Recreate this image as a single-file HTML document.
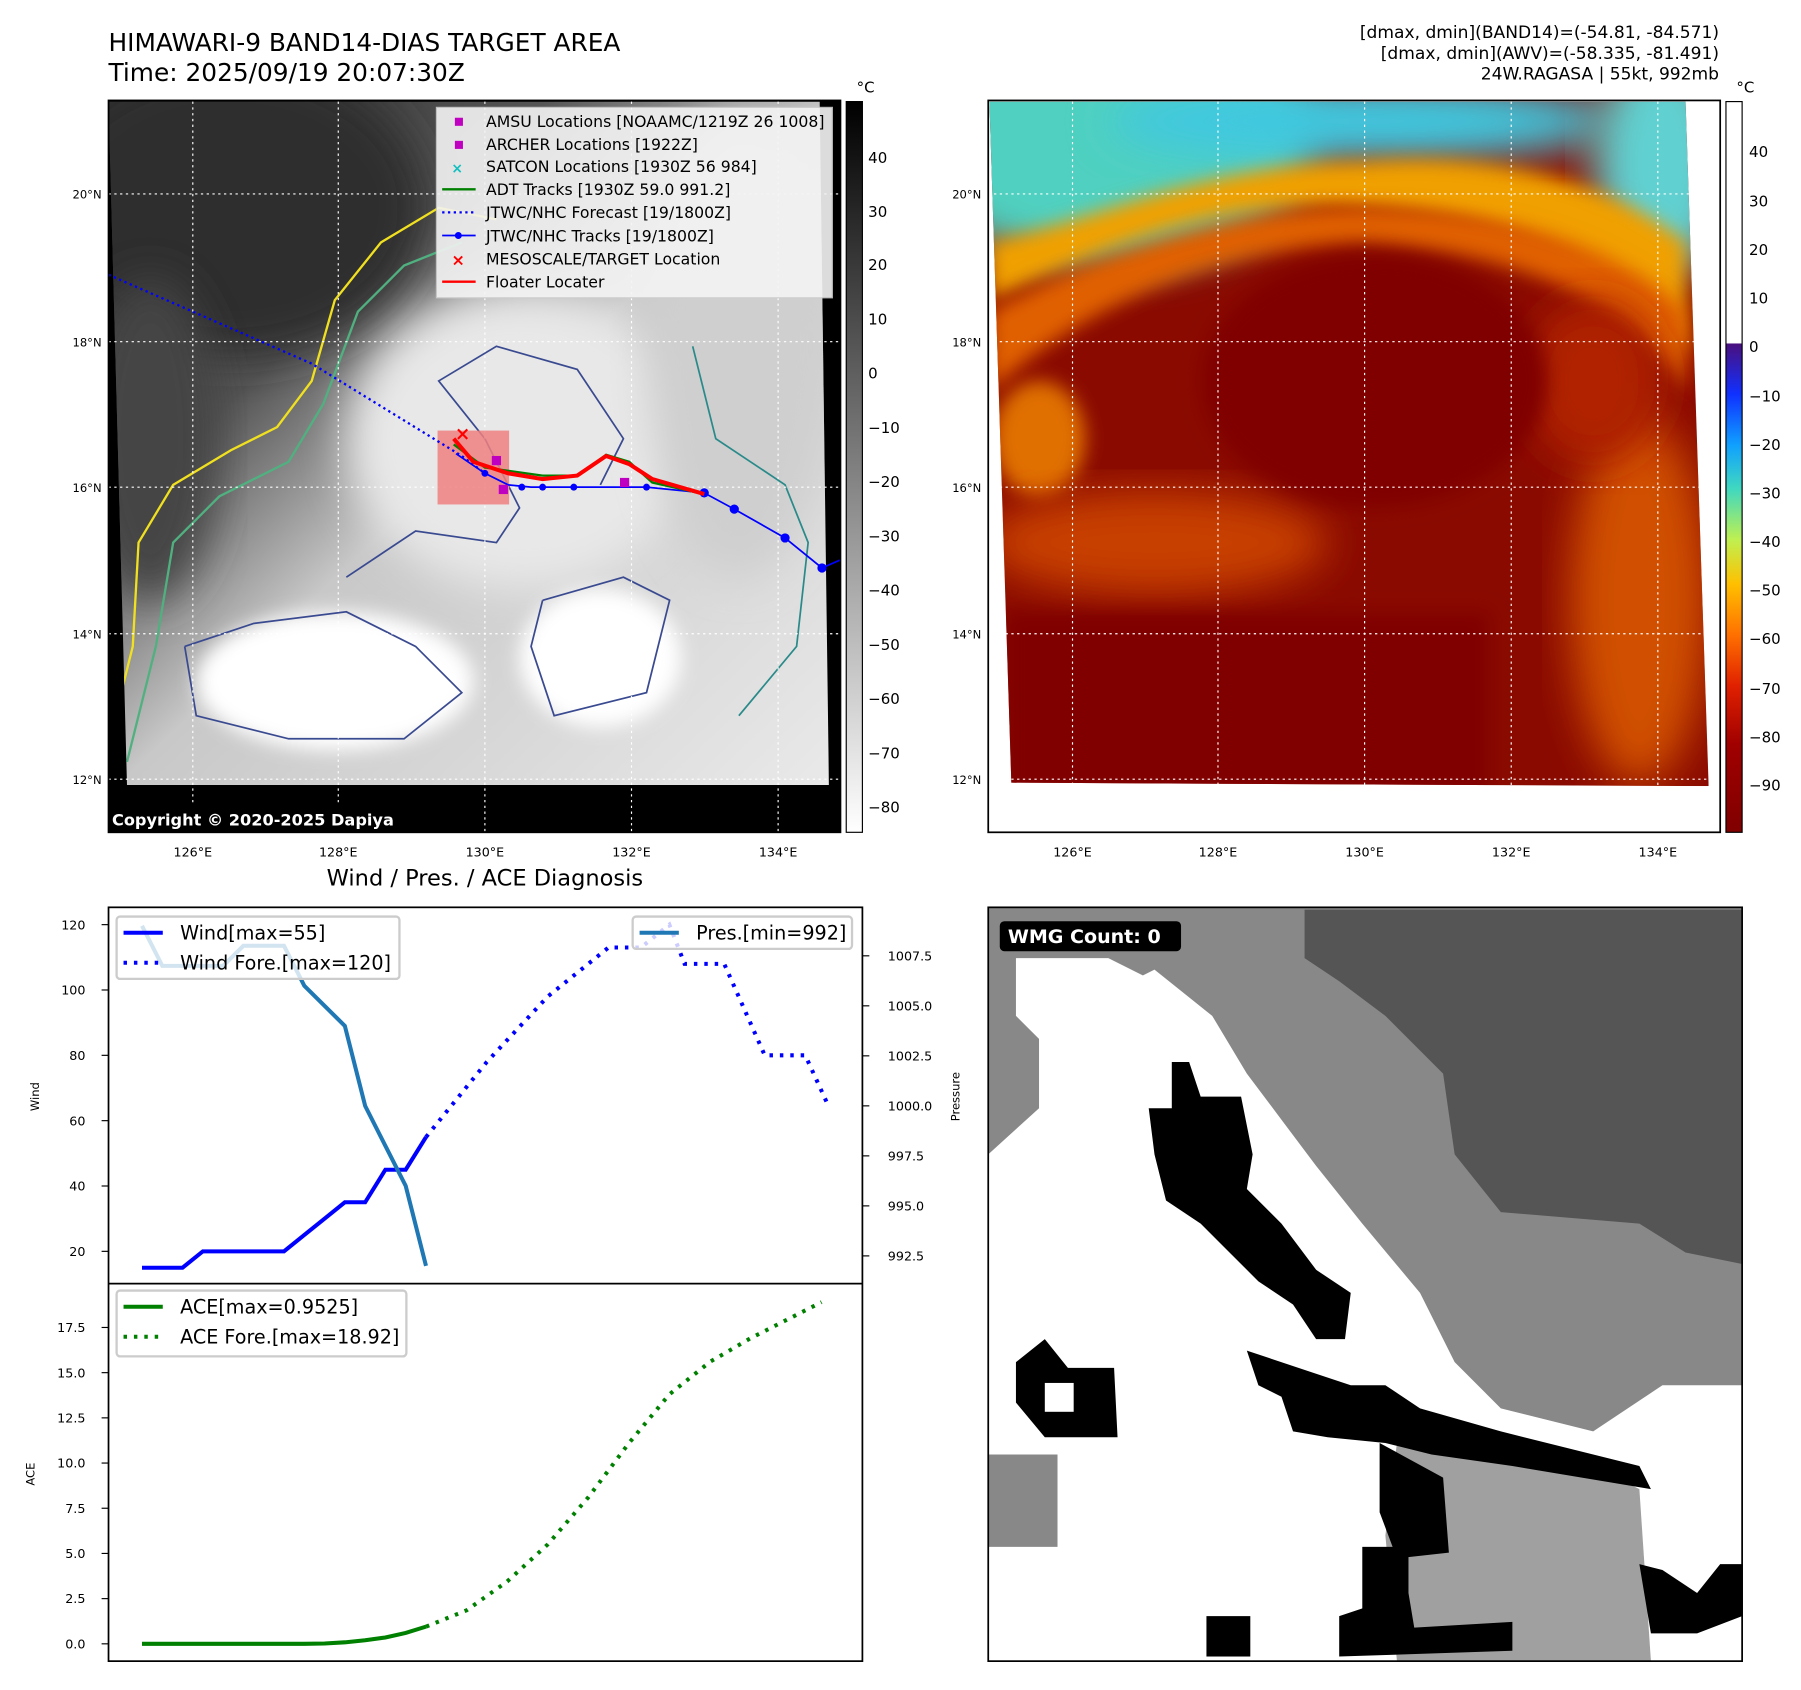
<!DOCTYPE html>
<html><head><meta charset="utf-8"><style>
html,body{margin:0;padding:0;background:#fff;}
svg{display:block;font-family:"DejaVu Sans","Liberation Sans",sans-serif;}
</style></head><body>
<svg id="root" width="1801" height="1690" viewBox="0 0 1560 1464" preserveAspectRatio="none" xmlns="http://www.w3.org/2000/svg">
<defs>
<linearGradient id="gcb1" x1="0" y1="0" x2="0" y2="1"><stop offset="0" stop-color="#000"/><stop offset="1" stop-color="#fff"/></linearGradient>
<linearGradient id="gcb2" x1="0" y1="0" x2="0" y2="1">
<stop offset="0" stop-color="#fff"/><stop offset="0.33" stop-color="#fff"/><stop offset="0.332" stop-color="#4a1080"/>
<stop offset="0.40" stop-color="#1030ff"/><stop offset="0.47" stop-color="#10a0ff"/><stop offset="0.53" stop-color="#40d8c0"/>
<stop offset="0.60" stop-color="#c0f050"/><stop offset="0.66" stop-color="#ffc000"/><stop offset="0.73" stop-color="#ff7000"/>
<stop offset="0.80" stop-color="#e02000"/><stop offset="0.88" stop-color="#a00000"/><stop offset="1" stop-color="#800000"/></linearGradient>
<linearGradient id="gmap1" x1="0" y1="0" x2="1" y2="1"><stop offset="0" stop-color="#2a2a2a"/><stop offset="0.3" stop-color="#555"/><stop offset="0.5" stop-color="#c8c8c8"/><stop offset="1" stop-color="#eaeaea"/></linearGradient>
<filter id="bl" x="-20%" y="-20%" width="140%" height="140%"><feGaussianBlur stdDeviation="18"/></filter>
<filter id="bl2" x="-20%" y="-20%" width="140%" height="140%"><feGaussianBlur stdDeviation="8"/></filter>
<clipPath id="c1"><polygon points="94,88 710,88 718,680 110,680"/></clipPath>
<clipPath id="c2"><polygon points="857,88 1460,88 1480,681 876,678"/></clipPath>
<clipPath id="c3"><rect x="856" y="786" width="653" height="653"/></clipPath>
</defs>

<text x="94" y="44" font-size="21.5">HIMAWARI-9 BAND14-DIAS TARGET AREA</text>
<text x="94" y="70" font-size="21.5">Time: 2025/09/19 20:07:30Z</text>
<g font-size="14.8" text-anchor="end">
<text x="1489" y="33">[dmax, dmin](BAND14)=(-54.81, -84.571)</text>
<text x="1489" y="51">[dmax, dmin](AWV)=(-58.335, -81.491)</text>
<text x="1489" y="69">24W.RAGASA | 55kt, 992mb</text>
</g>

<g>
<rect x="94" y="87" width="634" height="634" fill="#000"/>
<g clip-path="url(#c1)">
<rect x="94" y="88" width="630" height="600" fill="url(#gmap1)"/>
<ellipse cx="200" cy="180" rx="170" ry="130" fill="#2e2e2e" filter="url(#bl)"/>
<ellipse cx="130" cy="380" rx="60" ry="140" fill="#444" filter="url(#bl)"/>
<ellipse cx="450" cy="380" rx="150" ry="130" fill="#e8e8e8" filter="url(#bl)"/>
<ellipse cx="290" cy="590" rx="120" ry="60" fill="#fff" filter="url(#bl2)"/>
<ellipse cx="520" cy="570" rx="70" ry="60" fill="#fff" filter="url(#bl2)"/>
<ellipse cx="640" cy="300" rx="80" ry="200" fill="#cfcfcf" filter="url(#bl)"/>
<polyline points="95,640 115,560 120,470 150,420 200,390 240,370 270,330 290,260 330,210 380,180 430,190" fill="none" stroke="#f0e020" stroke-width="2"/>
<polyline points="110,660 135,560 150,470 190,430 250,400 280,350 310,270 350,230 400,210" fill="none" stroke="#50b080" stroke-width="2"/>
<polyline points="300,500 360,460 430,470 450,440 420,380 380,330 430,300 500,320 540,380 520,420" fill="none" stroke="#3a4a90" stroke-width="1.5"/>
<polyline points="160,560 220,540 300,530 360,560 400,600 350,640 250,640 170,620 160,560" fill="none" stroke="#3a4a90" stroke-width="1.5"/>
<polyline points="470,520 540,500 580,520 560,600 480,620 460,560 470,520" fill="none" stroke="#3a4a90" stroke-width="1.5"/>
<polyline points="600,300 620,380 680,420 700,470 690,560 640,620" fill="none" stroke="#2a8a8a" stroke-width="1.5"/>
</g>
<g stroke="#fff" stroke-width="1" stroke-dasharray="2,3">
<line x1="94" x2="728" y1="168" y2="168"/><line x1="94" x2="728" y1="296" y2="296"/><line x1="94" x2="728" y1="422" y2="422"/><line x1="94" x2="728" y1="549" y2="549"/><line x1="94" x2="728" y1="675" y2="675"/>
<line y1="88" y2="721" x1="167" x2="167"/><line y1="88" y2="721" x1="293" x2="293"/><line y1="88" y2="721" x1="420" x2="420"/><line y1="88" y2="721" x1="547" x2="547"/><line y1="88" y2="721" x1="674" x2="674"/>
</g>
<rect x="379" y="373" width="62" height="64" fill="#f08080" opacity="0.85"/>
<polyline points="94,238 270,315 400,395 420,410" fill="none" stroke="#0000ff" stroke-width="2" stroke-dasharray="2,3"/>
<polyline points="395,393 420,410 440,420 460,422 560,422 610,427 636,441 680,466 712,492 728,485" fill="none" stroke="#0000ff" stroke-width="1.5"/>
<g fill="#0000ff"><circle cx="420" cy="410" r="3"/><circle cx="452" cy="422" r="3"/><circle cx="470" cy="422" r="3"/><circle cx="497" cy="422" r="3"/><circle cx="560" cy="422" r="3"/><circle cx="610" cy="427" r="4"/><circle cx="636" cy="441" r="4"/><circle cx="680" cy="466" r="4"/><circle cx="712" cy="492" r="4"/></g>
<polyline points="393,385 420,405 470,412 500,412 525,394 545,400 565,418 610,428" fill="none" stroke="#008000" stroke-width="2"/>
<polyline points="393,380 410,400 440,410 470,415 500,412 525,395 545,402 565,415 610,428" fill="none" stroke="#ff0000" stroke-width="3.5"/>
<text x="394" y="381" fill="#ff0000" font-size="16" font-weight="bold">×</text>
<g fill="#c000c0"><rect x="426" y="395" width="8" height="8"/><rect x="432" y="420" width="8" height="8"/><rect x="537" y="414" width="8" height="8"/></g>
<rect x="94" y="697" width="280" height="24" fill="#000"/>
<text x="97" y="715" fill="#fff" font-size="14" font-weight="bold">Copyright © 2020-2025 Dapiya</text>
<g>
<rect x="378" y="93" width="343" height="165" fill="#f4f4f4" opacity="0.9" stroke="#ccc"/>
<g font-size="13.6">
<rect x="394" y="102" width="7" height="7" fill="#c000c0"/><text x="421" y="110">AMSU Locations [NOAAMC/1219Z 26 1008]</text>
<rect x="394" y="122" width="7" height="7" fill="#c000c0"/><text x="421" y="130">ARCHER Locations [1922Z]</text>
<text x="391" y="150" fill="#10c0c0" font-size="12" font-weight="bold">×</text><text x="421" y="149">SATCON Locations [1930Z 56 984]</text>
<line x1="383" x2="412" y1="164" y2="164" stroke="#008000" stroke-width="2"/><text x="421" y="169">ADT Tracks [1930Z 59.0 991.2]</text>
<line x1="383" x2="412" y1="184" y2="184" stroke="#0000ff" stroke-width="2" stroke-dasharray="2,3"/><text x="421" y="189">JTWC/NHC Forecast [19/1800Z]</text>
<line x1="383" x2="412" y1="204" y2="204" stroke="#0000ff" stroke-width="1.5"/><circle cx="397" cy="204" r="3" fill="#0000ff"/><text x="421" y="209">JTWC/NHC Tracks [19/1800Z]</text>
<text x="391" y="230" fill="#ff0000" font-size="14" font-weight="bold">×</text><text x="421" y="229">MESOSCALE/TARGET Location</text>
<line x1="383" x2="412" y1="244" y2="244" stroke="#ff0000" stroke-width="2"/><text x="421" y="249">Floater Locater</text>
</g></g>
<rect x="94" y="87" width="634" height="634" fill="none" stroke="#000" stroke-width="1.5"/>
</g>
<g>
<rect x="733" y="88" width="14" height="633" fill="url(#gcb1)" stroke="#000"/>
<text x="742" y="80" font-size="13">°C</text>
<g font-size="13"><text x="752" y="141">40</text><text x="752" y="188">30</text><text x="752" y="234">20</text><text x="752" y="281">10</text><text x="752" y="328">0</text><text x="752" y="375">−10</text><text x="752" y="422">−20</text><text x="752" y="469">−30</text><text x="752" y="516">−40</text><text x="752" y="563">−50</text><text x="752" y="610">−60</text><text x="752" y="657">−70</text><text x="752" y="704">−80</text></g>
</g>
<g font-size="10" text-anchor="end"><text x="88" y="172">20°N</text><text x="88" y="300">18°N</text><text x="88" y="426">16°N</text><text x="88" y="553">14°N</text><text x="88" y="679">12°N</text></g>
<g font-size="11" text-anchor="middle"><text x="167" y="742">126°E</text><text x="293" y="742">128°E</text><text x="420" y="742">130°E</text><text x="547" y="742">132°E</text><text x="674" y="742">134°E</text></g>

<g>
<g clip-path="url(#c2)">
<rect x="856" y="88" width="630" height="600" fill="#8a0a00"/>
<ellipse cx="960" cy="120" rx="180" ry="110" fill="#50d0c0" filter="url(#bl)"/>
<ellipse cx="1180" cy="105" rx="220" ry="35" fill="#40c8e0" filter="url(#bl)"/>
<ellipse cx="1440" cy="140" rx="60" ry="100" fill="#60d0d0" filter="url(#bl)"/>
<path d="M857,260 C950,220 1050,170 1180,180 C1330,190 1400,240 1460,310 L1460,210 C1400,160 1300,130 1180,140 C1050,140 950,190 857,210 Z" fill="#f0a000" filter="url(#bl2)"/>
<path d="M857,340 C930,270 1050,215 1180,210 C1330,220 1420,270 1460,340 L1460,270 C1400,210 1300,180 1180,180 C1050,180 930,230 857,270 Z" fill="#e06000" filter="url(#bl2)"/>
<ellipse cx="900" cy="380" rx="40" ry="50" fill="#e07000" filter="url(#bl2)"/>
<ellipse cx="1000" cy="470" rx="150" ry="45" fill="#c84000" filter="url(#bl)"/>
<ellipse cx="1420" cy="520" rx="60" ry="160" fill="#d05000" filter="url(#bl)"/>
<ellipse cx="1380" cy="330" rx="60" ry="70" fill="#b02000" filter="url(#bl)"/>
<ellipse cx="1190" cy="330" rx="150" ry="110" fill="#800000" filter="url(#bl2)"/>
<rect x="870" y="530" width="420" height="160" fill="#800000" filter="url(#bl2)"/>
</g>
<g stroke="#fff" stroke-width="1" stroke-dasharray="2,3">
<line x1="856" x2="1490" y1="168" y2="168"/><line x1="856" x2="1490" y1="296" y2="296"/><line x1="856" x2="1490" y1="422" y2="422"/><line x1="856" x2="1490" y1="549" y2="549"/><line x1="856" x2="1490" y1="675" y2="675"/>
<line y1="88" y2="721" x1="929" x2="929"/><line y1="88" y2="721" x1="1055" x2="1055"/><line y1="88" y2="721" x1="1182" x2="1182"/><line y1="88" y2="721" x1="1309" x2="1309"/><line y1="88" y2="721" x1="1436" x2="1436"/>
</g>
<rect x="856" y="87" width="634" height="634" fill="none" stroke="#000" stroke-width="1.5"/>
</g>
<g>
<rect x="1495" y="88" width="14" height="633" fill="url(#gcb2)" stroke="#000"/>
<text x="1504" y="80" font-size="13">°C</text>
<g font-size="13"><text x="1515" y="136">40</text><text x="1515" y="179">30</text><text x="1515" y="221">20</text><text x="1515" y="263">10</text><text x="1515" y="305">0</text><text x="1515" y="348">−10</text><text x="1515" y="390">−20</text><text x="1515" y="432">−30</text><text x="1515" y="474">−40</text><text x="1515" y="516">−50</text><text x="1515" y="558">−60</text><text x="1515" y="601">−70</text><text x="1515" y="643">−80</text><text x="1515" y="685">−90</text></g>
</g>
<g font-size="10" text-anchor="end"><text x="850" y="172">20°N</text><text x="850" y="300">18°N</text><text x="850" y="426">16°N</text><text x="850" y="553">14°N</text><text x="850" y="679">12°N</text></g>
<g font-size="11" text-anchor="middle"><text x="929" y="742">126°E</text><text x="1055" y="742">128°E</text><text x="1182" y="742">130°E</text><text x="1309" y="742">132°E</text><text x="1436" y="742">134°E</text></g>

<g clip-path="url(#c3)">
<rect x="856" y="786" width="653" height="653" fill="#888"/>
<polygon points="1130,788 1509,788 1509,1095 1460,1085 1420,1060 1300,1050 1260,1000 1250,930 1200,880 1160,850 1130,830" fill="#555"/>
<polygon points="856,1000 900,960 900,880 960,860 1000,840 1050,880 1080,930 1110,970 1140,1010 1180,1060 1230,1120 1260,1180 1300,1220 1380,1240 1440,1200 1509,1200 1509,1439 856,1439" fill="#fff"/>
<polygon points="880,830 960,830 1000,850 1000,900 920,920 880,880" fill="#fff"/>
<polygon points="1210,1250 1250,1240 1320,1250 1380,1270 1420,1290 1430,1439 1210,1439 1200,1330" fill="#a0a0a0"/>
<rect x="856" y="1260" width="60" height="80" fill="#888"/>
<g fill="#000">
<polygon points="1015,920 1030,920 1040,950 1075,950 1085,1000 1080,1030 1110,1060 1140,1100 1170,1120 1165,1160 1140,1160 1120,1130 1090,1110 1060,1080 1040,1060 1010,1040 1000,1000 995,960 1015,960"/>
<polygon points="1080,1170 1140,1190 1170,1200 1200,1200 1230,1220 1300,1240 1420,1270 1430,1290 1310,1270 1240,1260 1200,1250 1150,1245 1120,1240 1110,1210 1090,1200"/>
<polygon points="1195,1250 1250,1280 1255,1345 1210,1350 1195,1310"/>
<polygon points="880,1180 905,1160 925,1185 965,1185 968,1245 905,1245 880,1215"/>
<polygon points="1420,1355 1440,1360 1470,1380 1490,1355 1509,1355 1509,1400 1470,1415 1430,1415"/>
<rect x="1045" y="1400" width="38" height="35"/>
<polygon points="1160,1400 1220,1380 1225,1410 1310,1405 1310,1430 1160,1435"/>
<rect x="1180" y="1340" width="40" height="55"/>
</g>
<g fill="#fff"><rect x="905" y="1198" width="25" height="25"/></g>
</g>
<rect x="856" y="786" width="653" height="653" fill="none" stroke="#000" stroke-width="1.5"/>
<rect x="866" y="798" width="157" height="26" rx="4" fill="#000"/>
<text x="873" y="817" fill="#fff" font-size="16.5" font-weight="bold">WMG Count: 0</text>

<text x="420" y="767" font-size="19.5" text-anchor="middle">Wind / Pres. / ACE Diagnosis</text>
<g id="chart"></g>
</svg>
<script>
const windObsIdx = [0,1,2,3,4,5,6,7,8,9,10,11,12,13,14];
const windObs = [15,15,15,20,20,20,20,20,25,30,35,35,45,45,55];
const presObs = [1009,1007,1007,1007,1007,1008,1008,1008,1006,1005,1004,1000,998,996,992];
const windFcIdx = [14,17,20,23,24.6,26,26.75,28.7,30.7,32.7,33.8];
const windFc = [55,78,98,113,113,120,108,108,80,80,65];
const aceObs = [0,0,0,0,0,0,0,0,0,0.02,0.08,0.2,0.35,0.6,0.95];
const aceFcIdx = [14,16,18,20,22,24,26,28,30,33.5];
const aceFc = [0.95,1.85,3.45,5.5,8.1,11.1,13.8,15.6,16.9,18.9];
const windTicks = [20,40,60,80,100,120];
const presTicks = [992.5,995.0,997.5,1000.0,1002.5,1005.0,1007.5];
const aceTicks = [0.0,2.5,5.0,7.5,10.0,12.5,15.0,17.5];

const NS='http://www.w3.org/2000/svg';
const g=document.getElementById('chart');
const X=i=>123+17.57*i;
const YW=v=>1084-(v-20)*2.83;
const YP=v=>828+(1007.5-v)*17.33;
const YA=v=>1424-v*15.66;
function mk(t,a,p){const e=document.createElementNS(NS,t);for(const k in a)e.setAttribute(k,a[k]);(p||g).appendChild(e);return e;}
function txt(x,y,s,anchor,size){const e=mk('text',{x:x,y:y,'font-size':size||11,'text-anchor':anchor||'end'});e.textContent=s;return e;}
function line(xs,vals,fy,col,w,dash,name){
  const pts=xs.map((x,k)=>X(x).toFixed(1)+','+fy(vals[k]).toFixed(1)).join(' ');
  const a={points:pts,fill:'none',stroke:col,'stroke-width':w};
  if(dash)a['stroke-dasharray']=dash;
  const e=mk('polyline',a);
  
  
}
mk('rect',{x:94,y:786,width:653,height:653,fill:'#fff',stroke:'#000','stroke-width':1.5});
mk('line',{x1:94,x2:747,y1:1112,y2:1112,stroke:'#000','stroke-width':1.5});
windTicks.forEach(v=>{mk('line',{x1:88,x2:94,y1:YW(v),y2:YW(v),stroke:'#000'});txt(74,YW(v)+4,String(v));});
presTicks.forEach(v=>{mk('line',{x1:747,x2:753,y1:YP(v),y2:YP(v),stroke:'#000'});txt(769,YP(v)+4,v.toFixed(1),'start');});
aceTicks.forEach(v=>{mk('line',{x1:88,x2:94,y1:YA(v),y2:YA(v),stroke:'#000'});txt(74,YA(v)+4,v.toFixed(1));});
const yl1=txt(34,950,'Wind','middle',10);yl1.setAttribute('transform','rotate(-90 34 950)');
const yl2=txt(831,950,'Pressure','middle',10);yl2.setAttribute('transform','rotate(-90 831 950)');
const yl3=txt(30,1277,'ACE','middle',10);yl3.setAttribute('transform','rotate(-90 30 1277)');
line(windObsIdx,windObs,YW,'#0000ff',3.5,null,'wind-line');
line(windFcIdx,windFc,YW,'#0000ff',3.5,'3,6','wind-forecast-line');
line(windObsIdx,presObs,YP,'#1f77b4',3.5,null,'pressure-line');
line(windObsIdx,aceObs,YA,'#008000',3.5,null,'ace-line');
line(aceFcIdx,aceFc,YA,'#008000',3.5,'3,6','ace-forecast-line');
function legend(x,y,w,h,items,name){
  const lg=mk('g',{});
  
  
  mk('rect',{x:x,y:y,width:w,height:h,rx:3,fill:'#fff','fill-opacity':0.8,stroke:'#ccc','stroke-width':2},lg);
  items.forEach((it,k)=>{const yy=y+14+k*26;
    const a={x1:x+6,x2:x+40,y1:yy,y2:yy,stroke:it[1],'stroke-width':3.5};if(it[2])a['stroke-dasharray']='3,6';
    mk('line',a,lg);const t=mk('text',{x:x+55,y:yy+6,'font-size':16.6},lg);t.textContent=it[0];});
}
legend(101,794,245,54,[['Wind[max=55]','#0000ff'],['Wind Fore.[max=120]','#0000ff',1]],'wind-legend');
legend(548,794,190,28,[['Pres.[min=992]','#1f77b4']],'pressure-legend');
legend(101,1118,251,57,[['ACE[max=0.9525]','#008000'],['ACE Fore.[max=18.92]','#008000',1]],'ace-legend');
</script>
</body></html>
